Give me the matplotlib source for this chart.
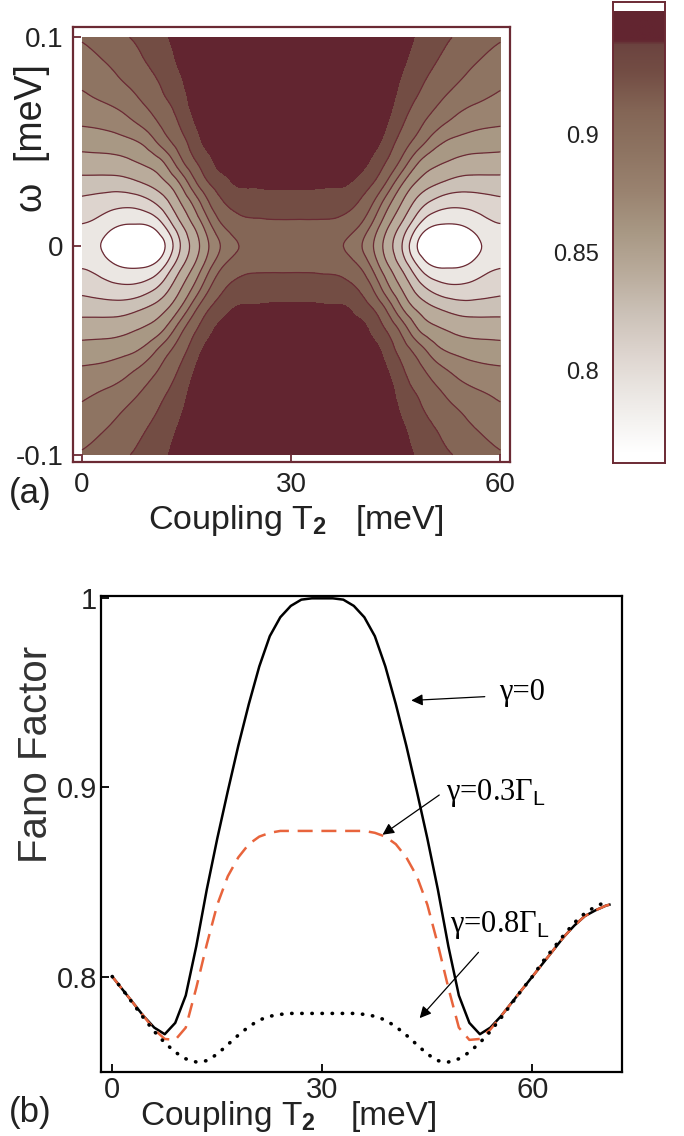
import numpy as np
import matplotlib
matplotlib.use("Agg")
import matplotlib.pyplot as plt
import matplotlib.tri as mtri
from matplotlib.colors import LinearSegmentedColormap, Normalize

plt.rcParams['font.family'] = ['Liberation Sans', 'DejaVu Sans']
plt.rcParams['mathtext.fontset'] = 'custom'
plt.rcParams['mathtext.rm'] = 'Liberation Sans'
plt.rcParams['mathtext.bf'] = 'Liberation Sans:bold'
plt.rcParams['mathtext.it'] = 'Liberation Sans:italic'

# ---- (a) Fano factor map, one quadrant (T2 = 0..30, omega = 0..0.1) ----
# the map is symmetric in omega and about T2 = 30, the other quadrants are mirrored
t2_nodes = [0, 2, 4, 6, 8, 10, 12, 14, 16, 18, 20, 22, 24, 27, 30]
omega_nodes = [0.00, 0.01, 0.02, 0.03, 0.04, 0.05, 0.06, 0.07, 0.08, 0.09, 0.10]
# one row per T2 node, values for omega = 0 .. 0.1
fano_quarter = [
    [0.790, 0.798, 0.8106, 0.8262, 0.8423, 0.8571, 0.8700, 0.8800, 0.8884, 0.8958, 0.9025],
    [0.785, 0.7943, 0.8077, 0.8256, 0.8427, 0.8580, 0.8715, 0.8834, 0.8915, 0.8994, 0.9055],
    [0.775, 0.787, 0.8043, 0.8250, 0.8432, 0.8593, 0.8741, 0.8868, 0.8963, 0.9040, 0.9101],
    [0.767, 0.7814, 0.8025, 0.8259, 0.8455, 0.8621, 0.8789, 0.8919, 0.9024, 0.9092, 0.9160],
    [0.765, 0.7806, 0.8042, 0.8304, 0.8500, 0.8670, 0.8866, 0.8995, 0.9087, 0.9153, 0.9205],
    [0.769, 0.7844, 0.8118, 0.8370, 0.8560, 0.8785, 0.8965, 0.9080, 0.9157, 0.9212, 0.9258],
    [0.783, 0.8024, 0.8265, 0.8480, 0.8696, 0.8950, 0.9082, 0.9171, 0.9225, 0.9275, 0.9330],
    [0.8145, 0.8285, 0.8472, 0.8670, 0.8939, 0.9101, 0.9200, 0.9265, 0.9325, 0.9390, 0.9430],
    [0.8395, 0.8509, 0.8694, 0.8945, 0.9144, 0.9260, 0.9345, 0.9405, 0.9435, 0.9455, 0.9465],
    [0.8646, 0.8767, 0.8965, 0.9161, 0.9290, 0.9395, 0.9435, 0.9455, 0.9465, 0.9475, 0.9480],
    [0.8854, 0.8996, 0.9149, 0.9275, 0.9400, 0.9435, 0.9455, 0.9465, 0.9475, 0.9480, 0.9485],
    [0.8990, 0.9106, 0.9221, 0.9360, 0.9420, 0.9445, 0.9460, 0.9470, 0.9480, 0.9485, 0.9490],
    [0.9040, 0.9137, 0.9249, 0.9375, 0.9428, 0.9450, 0.9465, 0.9475, 0.9485, 0.9490, 0.9495],
    [0.9070, 0.9149, 0.9257, 0.9382, 0.9432, 0.9455, 0.9470, 0.9480, 0.9488, 0.9494, 0.9500],
    [0.9080, 0.9151, 0.9258, 0.9385, 0.9435, 0.9458, 0.9472, 0.9482, 0.9490, 0.9496, 0.9502],
]
fano_min, fano_max = 0.765, 0.952
cbar_ticks = [0.8, 0.85, 0.9]

# ---- (b) Fano factor vs T2 at omega = 0 ----
t2_line = [0, 1.5, 3, 4.5, 6, 7.5, 9, 10.5, 12, 13.5, 15, 16.5, 18, 19.5, 21, 22.5,
           24, 25.5, 27, 28.5, 30, 31.5, 33, 34.5, 36, 37.5, 39, 40.5, 42, 43.5, 45,
           46.5, 48, 49.5, 51, 52.5, 54, 55.5, 57, 58.5, 60, 61.5, 63, 64.5, 66, 67.5,
           69, 70.5, 71]
fano_g0 = [0.800, 0.793, 0.786, 0.779, 0.773, 0.7695, 0.7755, 0.790, 0.816, 0.846, 0.873,
           0.898, 0.922, 0.944, 0.964, 0.980, 0.990, 0.996, 0.9993, 1.000, 1.000, 1.000,
           0.9993, 0.996, 0.990, 0.980, 0.964, 0.944, 0.922, 0.898, 0.873, 0.846, 0.816,
           0.790, 0.7755, 0.7695, 0.773, 0.779, 0.786, 0.793, 0.800, 0.807, 0.814, 0.821,
           0.827, 0.832, 0.835, 0.8375, 0.838]
fano_g03 = [0.800, 0.793, 0.786, 0.779, 0.772, 0.767, 0.7665, 0.773, 0.794, 0.817, 0.838,
            0.853, 0.863, 0.870, 0.874, 0.876, 0.877, 0.877, 0.877, 0.877, 0.877, 0.877,
            0.877, 0.877, 0.877, 0.876, 0.874, 0.870, 0.863, 0.853, 0.838, 0.817, 0.794,
            0.773, 0.7665, 0.767, 0.772, 0.779, 0.786, 0.793, 0.800, 0.807, 0.814, 0.821,
            0.827, 0.832, 0.835, 0.8375, 0.838]
fano_g08 = [0.800, 0.793, 0.7855, 0.778, 0.771, 0.765, 0.760, 0.7565, 0.7548, 0.7555, 0.759,
            0.764, 0.769, 0.7735, 0.777, 0.779, 0.780, 0.7805, 0.7805, 0.7805, 0.7805, 0.7805,
            0.7805, 0.7805, 0.780, 0.779, 0.777, 0.7735, 0.769, 0.764, 0.759, 0.7555, 0.7548,
            0.7565, 0.760, 0.765, 0.771, 0.778, 0.7855, 0.793, 0.800, 0.808, 0.815, 0.822,
            0.8285, 0.8335, 0.837, 0.8395, 0.840]

maroon = '#6b2a34'
text_col = '#222222'
band_colors = [(0.000, '#ffffff'), (0.135, '#ebe7e3'), (0.226, '#ddd4ce'), (0.317, '#cbc1b7'),
               (0.408, '#b9ab9b'), (0.500, '#a89884'), (0.591, '#9a8370'), (0.682, '#8e7462'),
               (0.773, '#846656'), (0.864, '#734d44'), (0.925, '#6c4440'), (0.935, '#632530'),
               (1.000, '#622530')]
cmap = LinearSegmentedColormap.from_list('fano', band_colors)
norm = Normalize(fano_min, fano_max)

fig = plt.figure(figsize=(6.84, 11.36), dpi=100)

# ---------------- panel (a) ----------------
ax1 = fig.add_axes([0.1067, 0.5933, 0.639, 0.3829])
q = np.array(fano_quarter).T
t2 = np.array(t2_nodes, dtype=float)
om = np.array(omega_nodes)
t2_full = np.concatenate([t2, 60 - t2[::-1][1:]])
om_full = np.concatenate([-om[::-1][:-1], om])
half = np.hstack([q, q[:, ::-1][:, 1:]])
z = np.vstack([half[::-1][:-1], half])

T, W = np.meshgrid(t2_full, om_full)
ny, nx = z.shape
idx = np.arange(nx * ny).reshape(ny, nx)
a, b = idx[:-1, :-1].ravel(), idx[:-1, 1:].ravel()
c, d = idx[1:, 1:].ravel(), idx[1:, :-1].ravel()
triangles = np.concatenate([np.stack([a, b, c], 1), np.stack([a, c, d], 1)])
tri = mtri.Triangulation(T.ravel(), W.ravel() * 300, triangles)
tri_f, z_f = mtri.UniformTriRefiner(tri).refine_field(z.ravel(), subdiv=3)
tri_plot = mtri.Triangulation(tri_f.x, tri_f.y / 300, tri_f.triangles)

line_levels = np.linspace(0.782, 0.935, 10)
fill_levels = np.concatenate([[0.70], line_levels, [1.0]])
ax1.tricontourf(tri_plot, z_f, levels=fill_levels, cmap=cmap, norm=norm)
ax1.tricontour(tri_plot, z_f, levels=line_levels[:-1], colors=maroon, linewidths=0.9)

ax1.set_xlim(-1.3, 61.4)
ax1.set_ylim(-0.1035, 0.105)
ax1.set_xticks([0, 30, 60])
ax1.set_yticks([-0.1, 0, 0.1])
ax1.set_yticklabels(['-0.1', '0', '0.1'])
for s in ax1.spines.values():
    s.set_color(maroon)
    s.set_linewidth(1.6)
ax1.tick_params(direction='in', color=maroon, length=6, width=1.3, labelsize=20,
                pad=7, labelcolor=text_col)
ax1.set_ylabel('ω  [meV]', fontsize=27, color=text_col)
ax1.yaxis.set_label_coords(-0.053, 0.745)
fig.text(0.433, 0.542, 'Coupling T$_\\mathbf{2}$   [meV]', fontsize=24.5,
         ha='center', va='center', color=text_col)
fig.text(0.044, 0.566, '(a)', fontsize=25, ha='center', va='center', color=text_col)

# colour bar
axc = fig.add_axes([0.896, 0.5924, 0.076, 0.4058])
grad = np.linspace(fano_min, fano_max, 256).reshape(-1, 1)
axc.imshow(grad, aspect='auto', cmap=cmap, norm=norm, origin='lower',
           extent=[0, 1, fano_min, fano_max])
axc.set_xlim(0, 1)
axc.set_ylim(0.7606, 0.956)
axc.set_xticks([])
axc.set_yticks(cbar_ticks)
axc.set_yticklabels(['0.8', '0.85', '0.9'])
axc.tick_params(length=0, labelsize=17, pad=10, labelcolor=text_col)
for s in axc.spines.values():
    s.set_color(maroon)
    s.set_linewidth(1.4)

# ---------------- panel (b) ----------------
ax2 = fig.add_axes([0.1477, 0.0563, 0.7617, 0.419])
ax2.plot(t2_line, fano_g0, color='black', lw=1.8)
ax2.plot(t2_line, fano_g03, color='#e8643c', lw=1.8, dashes=(6, 3.5))
ax2.plot(t2_line, fano_g08, color='black', lw=2.6, dashes=(0.1, 2.7),
         dash_capstyle='round')
ax2.set_xlim(-1.6, 72.8)
ax2.set_ylim(0.7495, 1.0012)
ax2.set_xticks([0, 30, 60])
ax2.set_yticks([0.8, 0.9, 1.0])
ax2.set_yticklabels(['0.8', '0.9', '1'])
for s in ax2.spines.values():
    s.set_linewidth(1.6)
ax2.tick_params(direction='in', length=6, width=1.3, labelsize=21, pad=3,
                labelcolor=text_col)
ax2.set_ylabel('Fano Factor', fontsize=29, color='#333333')
ax2.yaxis.set_label_coords(-0.088, 0.668)

arrow = dict(arrowstyle='-|>', color='black', lw=0.9, mutation_scale=17,
             shrinkA=0, shrinkB=0)
serif = ['Liberation Serif', 'DejaVu Serif']
ax2.annotate('', xy=(42.7, 0.946), xytext=(53.2, 0.948), arrowprops=arrow)
ax2.text(55.2, 0.950, 'γ=0', fontsize=22, family=serif, va='center')
ax2.annotate('', xy=(38.6, 0.875), xytext=(46.7, 0.896), arrowprops=arrow)
ax2.text(47.7, 0.897, 'γ=0.3Γ$_\\mathrm{L}$', fontsize=22, family=serif, va='center')
ax2.annotate('', xy=(43.9, 0.778), xytext=(52.3, 0.8128), arrowprops=arrow)
ax2.text(48.3, 0.827, 'γ=0.8Γ$_\\mathrm{L}$', fontsize=22, family=serif, va='center')

# x label of (b), in two parts so the "30" tick label sits in the gap
fig.text(0.204, 0.0175, 'Coupling T$_\\mathbf{2}$', fontsize=24,
         ha='left', va='center', color=text_col)
fig.text(0.513, 0.0175, '[meV]', fontsize=24, ha='left', va='center', color=text_col)
fig.text(0.044, 0.0205, '(b)', fontsize=25, ha='center', va='center', color=text_col)

fig.savefig('out.png', dpi=100)
